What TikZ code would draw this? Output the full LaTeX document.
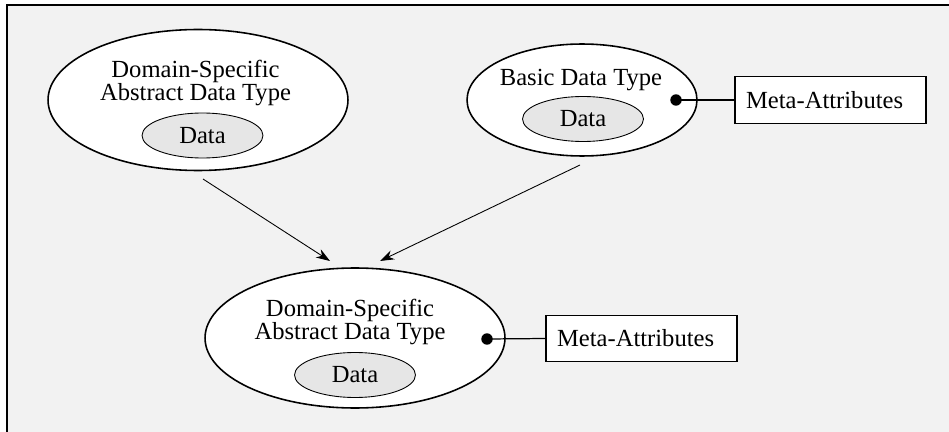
\documentclass[tikz,border=0pt]{standalone}
\usepackage{fontspec}
\setmainfont{Liberation Serif}
\usetikzlibrary{shapes.geometric,arrows.meta}
\definecolor{panelgray}{HTML}{F2F2F2}
\definecolor{datagray}{HTML}{E6E6E6}

\begin{document}
\begin{tikzpicture}[x=0.02cm, y=-0.02cm,
    txt/.style={font=\fontsize{14pt}{13pt}\selectfont, align=center, inner sep=0pt},
    adt/.style={ellipse, draw=black, line width=0.9pt, fill=white, inner sep=0pt},
    data/.style={ellipse, draw=black, line width=0.5pt, fill=datagray, minimum width=2.42cm, minimum height=0.9cm, inner sep=0pt, font=\fontsize{14pt}{13pt}\selectfont},
    meta/.style={rectangle, draw=black, line width=0.7pt, fill=white, minimum height=0.93cm, text width=3.38cm, inner xsep=0.22cm, inner ysep=0pt, align=left, font=\fontsize{14pt}{13pt}\selectfont},
    dot/.style={circle, fill=black, minimum size=6.5pt, inner sep=0pt},
    attach/.style={line width=0.7pt},
    arrow/.style={line width=0.5pt, ->, >={Stealth[length=8pt, width=5.5pt]}}]

    % panel
    \useasboundingbox (0,0) rectangle (949,432);
    \fill [panelgray] (7,5) rectangle (949,432);
    \draw [line width=1.1pt] (7,432) -- (7,5) -- (949,5);

    % upper left
    \node (adt1) [adt, minimum width=6cm, minimum height=2.82cm] at (198,100) {};
    \node (title1) [txt] at (195.5,83) {Domain-Specific\\Abstract Data Type};
    \node (data1) [data] at (202.5,135.5) {Data};

    % upper right
    \node (basic) [adt, minimum width=4.6cm, minimum height=2.24cm] at (582,100) {};
    \node (title2) [txt, anchor=base] at (581,86) {Basic Data Type};
    \node (data2) [data] at (583,119) {Data};
    \node (dot2) [dot] at (676,100) {};
    \node (meta2) [meta] at (830.5,100) {Meta-Attributes};

    % lower
    \node (adt3) [adt, minimum width=6cm, minimum height=2.8cm] at (355,338) {};
    \node (title3) [txt] at (350,322) {Domain-Specific\\Abstract Data Type};
    \node (data3) [data] at (355,375) {Data};
    \node (dot3) [dot] at (487,339) {};
    \node (meta3) [meta] at (641.5,338.5) {Meta-Attributes};

    \coordinate (from1) at (203,179);
    \coordinate (to1) at (330,261);
    \coordinate (from2) at (580,165);
    \coordinate (to2) at (380,261);

    \draw [arrow] (from1) -- (to1);
    \draw [arrow] (from2) -- (to2);
    \draw [attach] (dot2.center) -- (meta2.west);
    \draw [attach] (dot3.center) -- (meta3.west);

\end{tikzpicture}
\end{document}
